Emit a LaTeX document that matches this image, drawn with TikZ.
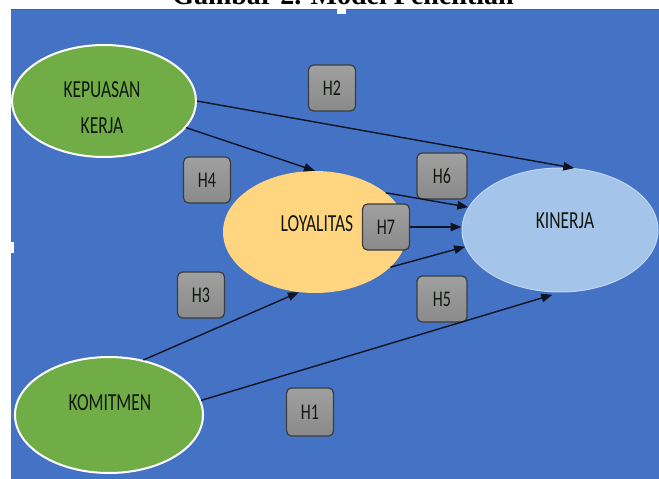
\documentclass[tikz,border=0pt]{standalone}
\usepackage{fontspec}
\setmainfont{Carlito}
\newfontfamily\titlefont{Liberation Serif}
\usetikzlibrary{arrows.meta,shapes.geometric}
\definecolor{bgblue}{RGB}{68,114,196}
\definecolor{edgeblue}{RGB}{70,95,140}
\definecolor{vgreen}{RGB}{112,173,71}
\definecolor{vgold}{RGB}{255,213,128}
\definecolor{vlblue}{RGB}{164,196,233}
\definecolor{hgray}{RGB}{138,138,138}
\definecolor{hgraytop}{RGB}{160,160,160}
\definecolor{hborder}{RGB}{60,60,60}
\definecolor{txtdark}{RGB}{18,24,16}
\definecolor{arrowdark}{RGB}{15,20,35}
\newcommand\stretchtxt[1]{\scalebox{1}[1.4]{#1}}
\tikzset{
  varbox/.style={ellipse, inner sep=0pt, minimum width=#1},
  greenvar/.style={fill=vgreen, draw=white, line width=2pt},
  goldvar/.style={fill=vgold, draw=none},
  bluevar/.style={fill=vlblue, draw=vlblue!70!white, line width=1pt},
  vartext/.style={font=\fontsize{17.5}{19}\selectfont, text=txtdark, inner sep=0pt},
  hbox/.style={rectangle, rounded corners=5pt, draw=hborder, line width=1.2pt,
    top color=hgraytop, bottom color=hgray, minimum width=47pt, minimum height=46pt,
    inner sep=0pt, font=\fontsize{16}{18}\selectfont, text=txtdark},
  link/.style={draw=arrowdark, line width=1.4pt, -{Triangle[length=11pt,width=8.5pt]}},
}
\begin{document}
\begin{tikzpicture}[x=1pt,y=-1pt]
\useasboundingbox (0,0) rectangle (659,479);
% title (cut off at the top, as in the reference)
\begin{scope}
\clip (0,0) rectangle (659,9);
\node[anchor=base, font=\titlefont\bfseries\fontsize{28}{30}\selectfont, inner sep=0pt] (title) at (343,5) {Gambar 2. Model Penelitian};
\end{scope}
% background
\fill[bgblue] (11,9) rectangle (659,479);
\draw[edgeblue, line width=1pt] (11,9.5) -- (659,9.5);
\fill[white] (337,8) rectangle (346,14);
\fill[white] (9,242) rectangle (14,253);
% variables
\node[varbox=184pt, minimum height=112pt, greenvar] (kep) at (104,101) {};
\node[varbox=188pt, minimum height=116pt, greenvar] (kom) at (109,415) {};
\node[varbox=184pt, minimum height=122pt, goldvar] (loy) at (315,232) {};
\node[varbox=196pt, minimum height=124pt, bluevar] (kin) at (560,230) {};
\node[vartext, anchor=base] (kept1) at (102,97) {\stretchtxt{KEPUASAN}};
\node[vartext, anchor=base] (kept2) at (102,133) {\stretchtxt{KERJA}};
\node[vartext, anchor=base] (komt) at (110,410) {\stretchtxt{KOMITMEN}};
\node[vartext, anchor=base] (loyt) at (317,231) {\stretchtxt{LOYALITAS}};
\node[vartext, anchor=base] (kint) at (565,228) {\stretchtxt{KINERJA}};
% hypothesis boxes
\node[hbox] (h2) at (332,88) {\stretchtxt{H2}};
\node[hbox] (h4) at (207,180) {\stretchtxt{H4}};
\node[hbox, minimum width=50pt] (h6) at (442,176) {\stretchtxt{H6}};
\node[hbox, minimum width=50pt] (h5) at (442,299) {\stretchtxt{H5}};
\node[hbox] (h3) at (201,295) {\stretchtxt{H3}};
\node[hbox, minimum height=48pt] (h1) at (310,412) {\stretchtxt{H1}};
% arrows
\draw[link] (kep.east) -- (kin.77);
\draw[link] (kep.-18) -- (loy.north);
\draw[link] (kom.58) -- (loy.-105);
\draw[link, shorten >=8pt] (kom.9) -- (kin.south);
\draw[link] (loy.29) -- (kin.166);
\draw[link] (loy.-25) -- (kin.190);
\node[hbox] (h7) at (386,227) {\stretchtxt{H7}};
\draw[link] (h7.east) -- (h7.east -| kin.west);
\end{tikzpicture}
\end{document}
